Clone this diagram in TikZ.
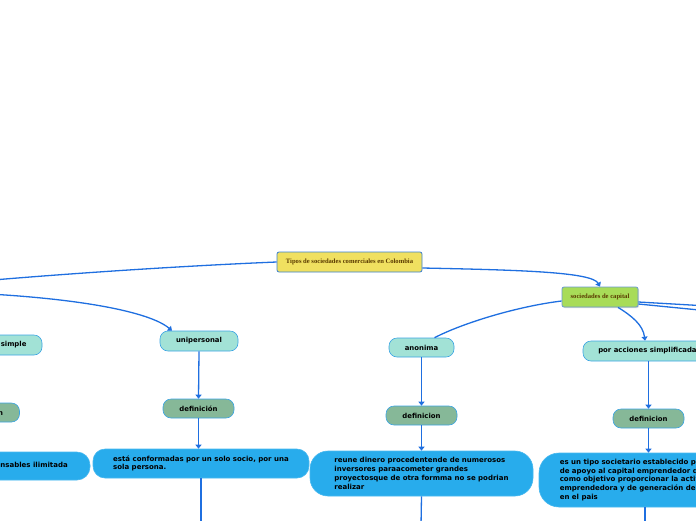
\documentclass[tikz,border=0pt]{standalone}
\usepackage{fontspec}
\newfontfamily\boxfont{DejaVu Sans}
\newfontfamily\titlefont{Liberation Serif}
\usetikzlibrary{arrows.meta,positioning,shadows}
\definecolor{linkblue}{HTML}{1F6FE0}
\definecolor{rootfill}{HTML}{F0E060}
\definecolor{rootedge}{HTML}{3A80D0}
\definecolor{capfill}{HTML}{A8DC58}
\definecolor{capedge}{HTML}{6A9AD0}
\definecolor{subfill}{HTML}{A2E2D6}
\definecolor{subedge}{HTML}{3BA4E4}
\definecolor{deffill}{HTML}{86B898}
\definecolor{descfill}{HTML}{28ACEC}
\definecolor{titlebrown}{HTML}{5A3A00}

\begin{document}
\begin{tikzpicture}[x=1pt, y=-1pt,
  root/.style={draw=rootedge, fill=rootfill, rounded corners=2pt, line width=0.8pt, minimum width=145, minimum height=20, inner sep=2pt, font=\titlefont\bfseries\fontsize{6.6}{7}\selectfont, text=titlebrown},
  topic/.style={root, draw=capedge, fill=capfill, minimum width=76, drop shadow={opacity=0.3, shadow xshift=1pt, shadow yshift=-1pt}},
  sub/.style={draw=subedge, fill=subfill, line width=0.6pt, rounded corners=8pt, minimum height=20, inner sep=2pt, font=\boxfont\bfseries\fontsize{6.9}{7}\selectfont},
  defn/.style={sub, fill=deffill, minimum width=71, minimum height=19},
  desc/.style={draw=descfill!85!white, fill=descfill, line width=0.6pt, rounded corners=13pt, align=left, inner sep=0pt, font=\boxfont\bfseries\fontsize{7}{8.8}\selectfont},
  link/.style={draw=linkblue, line width=1.3pt},
  arr/.style={link, -{Triangle[width=6pt,length=4pt]}}
]
\useasboundingbox (0,0) rectangle (696,520);
\begin{scope}
\clip (0,0) rectangle (696,520);
% main topic and branches
\node[root] (tipos) at (349.5,262) {Tipos de sociedades comerciales en Colombia};
\node[topic] (capital) at (600,297) {sociedades de capital};
\coordinate (personas) at (-30,282);
\coordinate (perslink) at (-30,293);

% left branch (cut at the edge)
\node[sub, minimum width=100] (simple) at (-8,345) {comandita simple};
\node[defn] (defS) at (-16,412.5) {definición};
\node[desc, minimum width=134, minimum height=28] (descS) at (23,466) {responsables ilimitada};

% unipersonal
\node[sub, minimum width=78] (unip) at (199,341) {unipersonal};
\node[defn] (defU) at (198.5,408.5) {definición};
\node[desc, minimum width=216, minimum height=29, rounded corners=12pt] (descU) at (201,463.5) {está conformadas por un solo socio, por una\\sola persona.};
\coordinate (offU) at (201,560);

% anonima
\node[sub, minimum width=65, minimum height=19] (anon) at (421.5,347.5) {anonima};
\node[defn] (defA) at (421.5,415.5) {definicion};
\node[desc, minimum width=223, minimum height=45, rounded corners=18pt] (descA) at (421.5,473.5) {reune dinero procedentende de numerosos\\inversores paraacometer grandes\\proyectosque de otra formma no se podrian\\realizar};
\coordinate (offA) at (421,526);

% por acciones simplificadas
\node[sub, minimum width=133] (sas) at (649.5,351) {por acciones simplificadas};
\node[defn] (defP) at (648.5,418.5) {definicion};
\node[desc, minimum width=212, minimum height=54, rounded corners=20pt] (descP) at (645,480) {es un tipo societario establecido por la ley\\de apoyo al capital emprendedor que tiene\\como objetivo proporcionar la actividad\\emprendedora y de generación de empleo\\en el pais};
\coordinate (offP) at (645,560);
\coordinate (capR1) at (760,309);
\coordinate (capR2) at (760,316);

% connectors
\draw[link] (tipos.west) .. controls (180,266) and (60,274) .. (personas);
\draw[arr] (perslink) .. controls (80,298) and (150,312) .. ([xshift=-27pt]unip.north);
\draw[arr] ([yshift=-6pt]tipos.east) .. controls (520,270) and (592,272) .. (capital.north);
\draw[link] ([yshift=-4pt]capital.west) .. controls (520,306) and (465,322) .. ([xshift=13pt]anon.north);
\draw[arr] ([xshift=18pt]capital.south) .. controls (632,316) and (643,325) .. ([xshift=-4.5pt]sas.north);
\draw[link] ([yshift=-5pt]capital.east) -- (capR1);
\draw[link] ([yshift=-7pt]capital.east) -- (capR2);

\draw[arr] (unip.south) -- (defU.north);
\draw[arr] (defU.south) -- (defU.south |- descU.north);
\draw[link] (descU.south) -- (offU);

\draw[arr] (anon.south) -- (defA.north);
\draw[arr] (defA.south) -- (descA.north);
\draw[arr] (descA.south) -- (offA);

\draw[arr] (defP.north |- sas.south) -- (defP.north);
\draw[arr] (defP.south) -- (defP.south |- descP.north);
\draw[link] (offP |- descP.south) -- (offP);
\end{scope}
\end{tikzpicture}
\end{document}
